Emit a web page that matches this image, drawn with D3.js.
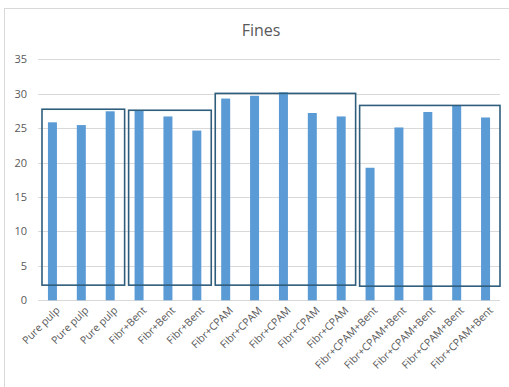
<!DOCTYPE html>
<html><head><meta charset="utf-8">
<script src="https://cdn.jsdelivr.net/npm/d3@7"></script>
<style>body{margin:0;background:#fff}svg{display:block;font-family:"Open Sans","Liberation Sans",sans-serif}</style>
</head><body><svg id="c" width="509" height="387"></svg>
<script>
const categories = ["Pure pulp","Pure pulp","Pure pulp","Fibr+Bent","Fibr+Bent","Fibr+Bent","Fibr+CPAM","Fibr+CPAM","Fibr+CPAM","Fibr+CPAM","Fibr+CPAM","Fibr+CPAM+Bent","Fibr+CPAM+Bent","Fibr+CPAM+Bent","Fibr+CPAM+Bent","Fibr+CPAM+Bent"];
const values = [25.85,25.45,27.45,27.6,26.7,24.65,29.3,29.7,30.2,27.2,26.7,19.25,25.1,27.35,28.3,26.55];
const yTicks = [0,5,10,15,20,25,30,35];
// group boxes: first index, last index, top value, bottom value
const boxFirst = [0,3,6,11];
const boxLast = [2,5,10,15];
const boxTop = [27.75,27.6,30.05,28.3];
const boxBottom = [2.2,2.2,2.2,2.05];

const svg = d3.select("#c");
// outer chart border
svg.append("rect").attr("x",4.5).attr("y",8.5).attr("width",520).attr("height",400)
  .attr("fill","none").attr("stroke","#d9d9d9");

const x = d3.scaleBand().domain(d3.range(categories.length)).range([38,500]).paddingInner(0).paddingOuter(0);
const y = d3.scaleLinear().domain([0,35]).range([300.3,59.3]);

svg.append("text").attr("x",261).attr("y",36).attr("text-anchor","middle")
  .attr("font-size",16).attr("fill","#595959").text("Fines");

// gridlines
svg.append("g").selectAll("line").data(yTicks).join("line")
  .attr("x1",38).attr("x2",500).attr("y1",d=>Math.round(y(d))+0.5).attr("y2",d=>Math.round(y(d))+0.5)
  .attr("stroke","#d9d9d9").attr("stroke-width",1);

// y axis labels
const ya = svg.append("g").attr("transform","translate(30,0)")
  .call(d3.axisLeft(y).tickValues(yTicks).tickSize(0).tickPadding(3));
ya.select(".domain").remove();
ya.selectAll("text").attr("font-size",11).attr("fill","#595959").attr("font-family","'Open Sans','Liberation Sans',sans-serif");

// bars
const bw = 9;
svg.append("g").selectAll("rect").data(values).join("rect")
  .attr("x",(d,i)=>x(i)+x.bandwidth()/2-bw/2)
  .attr("width",bw)
  .attr("y",d=>y(d)).attr("height",d=>y(0)-y(d))
  .attr("fill","#5b9bd5");

// x axis labels
const xa = svg.append("g").attr("transform","translate(0,300)")
  .call(d3.axisBottom(x).tickFormat(i=>categories[i]).tickSize(0).tickPadding(0));
xa.select(".domain").remove();
xa.selectAll("text").attr("font-size",10.5).attr("fill","#595959")
  .attr("font-family","'Open Sans','Liberation Sans',sans-serif")
  .attr("text-anchor","end").attr("dy",0)
  .attr("transform","translate(8,11) rotate(-45)");

// group boxes
svg.append("g").selectAll("rect").data(boxFirst).join("rect")
  .attr("x",(d,i)=>x(boxFirst[i])+4)
  .attr("width",(d,i)=>x(boxLast[i])+x.bandwidth()-x(boxFirst[i])-4)
  .attr("y",(d,i)=>y(boxTop[i]))
  .attr("height",(d,i)=>y(boxBottom[i])-y(boxTop[i]))
  .attr("fill","none").attr("stroke","#2f5d7c").attr("stroke-width",1.6);
</script></body></html>
